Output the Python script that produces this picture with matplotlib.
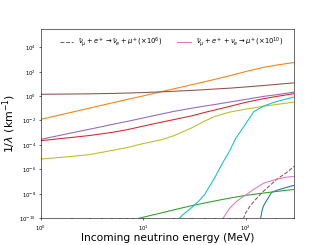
import numpy as np
import matplotlib
matplotlib.use("Agg")
import matplotlib.pyplot as plt

# energy grid (MeV) shared by the smooth curves
E = [1, 2, 3, 5, 7, 10, 15, 20, 30, 40, 50, 70, 100, 150, 200, 300]

y_orange = [1.23e-2, 4.7e-2, 0.102, 0.275, 0.525, 1.02, 2.24, 3.9, 8.5, 14.8, 22.9, 45.7, 100, 224, 339, 562]
y_brown = [1.38, 1.45, 1.51, 1.62, 1.74, 1.9, 2.19, 2.45, 2.88, 3.31, 3.72, 4.37, 5.5, 7.2, 8.9, 12.0]
y_purple = [2.8e-4, 9.5e-4, 1.9e-3, 4.7e-3, 8.3e-3, 1.58e-2, 3.3e-2, 5.5e-2, 0.1, 0.15, 0.2, 0.32, 0.52, 0.93, 1.26, 2.1]
y_red = [2.2e-4, 4.0e-4, 5.8e-4, 1.05e-3, 1.74e-3, 3.4e-3, 7.1e-3, 1.17e-2, 2.4e-2, 4.5e-2, 7.1e-2, 0.14, 0.3, 0.6, 0.91, 1.58]
y_olive = [6.8e-6, 1.12e-5, 1.58e-5, 3.5e-5, 6.0e-5, 1.26e-4, 2.6e-4, 5.6e-4, 2.5e-3, 8.9e-3, 2.1e-2, 4.8e-2, 8.3e-2, 0.145, 0.2, 0.32]

E_cyan = [22, 25, 30, 35, 40, 50, 60, 70, 80, 100, 120, 150, 200, 300]
y_cyan = [8e-11, 2.2e-10, 7.6e-10, 2.5e-9, 8.9e-9, 2.0e-7, 3.5e-6, 3.2e-5, 3.2e-4, 5.0e-3, 5.0e-2, 0.15, 0.35, 0.83]

E_green = [9, 10, 15, 20, 30, 50, 70, 100, 150, 200, 300]
y_green = [9.3e-11, 1.17e-10, 2.6e-10, 4.7e-10, 1.05e-9, 2.5e-9, 4.3e-9, 7.1e-9, 1.12e-8, 1.5e-8, 2.2e-8]

E_pink = [60, 65, 70, 80, 90, 100, 120, 150, 200, 250, 300]
y_pink = [8.9e-11, 2.5e-10, 6.3e-10, 2.0e-9, 4.2e-9, 7.6e-9, 2.2e-8, 7.1e-8, 1.5e-7, 2.2e-7, 2.6e-7]

E_dash = [95, 100, 110, 125, 150, 175, 200, 250, 300]
y_dash = [8e-11, 2.5e-10, 8.9e-10, 3.2e-9, 1.6e-8, 5e-8, 1.4e-7, 5e-7, 1.8e-6]

E_blue = [140, 145, 150, 160, 180, 200, 250, 300]
y_blue = [8e-11, 4e-10, 1e-9, 2.5e-9, 1.26e-8, 1.8e-8, 3.2e-8, 4.8e-8]

lab_dash = r'$\bar{\nu}_\mu + e^+ \rightarrow \bar{\nu}_e + \mu^+ (\times 10^6)$'
lab_pink = r'$\bar{\nu}_\mu + e^+ + \nu_e \rightarrow \mu^+ (\times 10^{10})$'

fig = plt.figure(figsize=(6.4, 4.8), dpi=51.1)
ax = fig.add_subplot(111)

ax.plot(E_blue, y_blue, color='tab:blue')
ax.plot(E, y_orange, color='tab:orange')
ax.plot(E_green, y_green, color='tab:green')
ax.plot(E, y_red, color='tab:red')
ax.plot(E, y_purple, color='tab:purple')
ax.plot(E, y_brown, color='tab:brown')
l1, = ax.plot(E_dash, y_dash, color='tab:brown', ls='--', label=lab_dash)
l2, = ax.plot(E_pink, y_pink, color='tab:pink', label=lab_pink)
ax.plot(E, y_olive, color='tab:olive')
ax.plot(E_cyan, y_cyan, color='tab:cyan')

ax.set_xscale('log')
ax.set_yscale('log')
ax.set_xlim(1, 300)
ax.set_ylim(1e-10, 3e5)
ax.tick_params(labelsize=7.5)
ax.set_xlabel('Incoming neutrino energy (MeV)', fontsize=15, labelpad=1)
ax.set_ylabel(r'1/$\lambda$ (km$^{-1}$)', fontsize=15.5, labelpad=2)
ax.legend(handles=[l1, l2], loc='upper center', bbox_to_anchor=(0.515, 1.0),
          ncol=2, frameon=False, fontsize=9.5, columnspacing=2.2)

fig.savefig('out.png', dpi=51.1)
